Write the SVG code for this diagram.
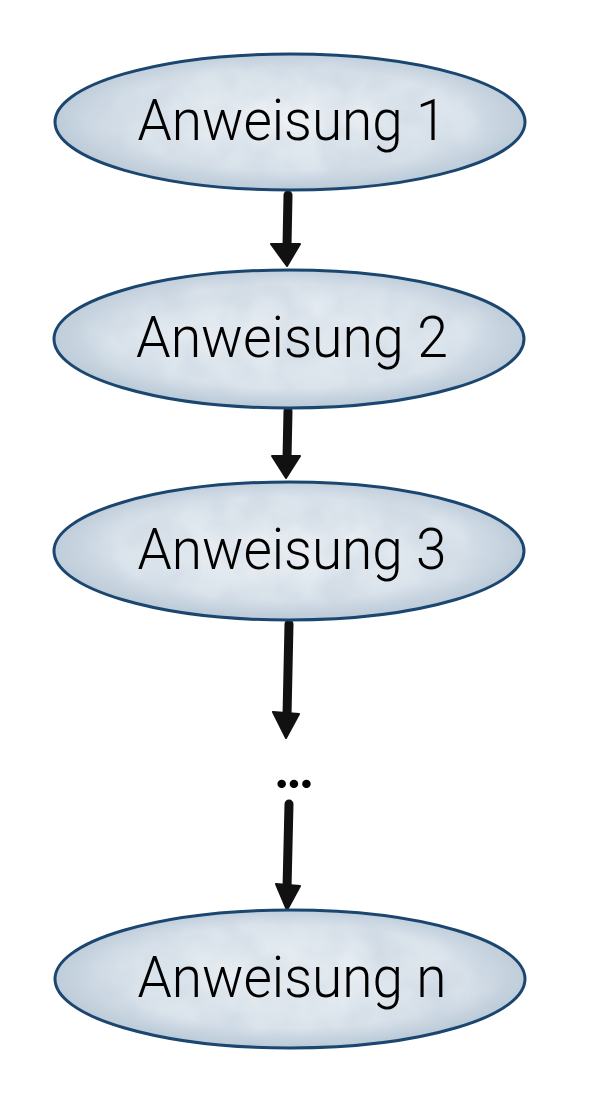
<svg xmlns="http://www.w3.org/2000/svg" width="599" height="1120" viewBox="0 0 599 1120">
  <defs>
    <radialGradient id="wash" cx="50%" cy="48%" r="58%">
      <stop offset="0" stop-color="#eef2f6"/>
      <stop offset="0.65" stop-color="#dae3eb"/>
      <stop offset="1" stop-color="#a9bccd"/>
    </radialGradient>
    <filter id="mottle" x="-5%" y="-5%" width="110%" height="110%">
      <feTurbulence type="fractalNoise" baseFrequency="0.022" numOctaves="3" seed="7" result="n"/>
      <feColorMatrix in="n" type="matrix" values="0 0 0 0 0.56  0 0 0 0 0.64  0 0 0 0 0.73  0 0 0 1.1 -0.35" result="c"/>
      <feComposite in="c" in2="SourceGraphic" operator="in" result="m"/>
      <feMerge><feMergeNode in="SourceGraphic"/><feMergeNode in="m"/></feMerge>
    </filter>
  </defs>
  <style>
    .wash { fill: url(#wash); stroke: none; filter: url(#mottle); }
    .rim { fill: none; stroke: #1b4670; stroke-width: 3; }
    .label { font-family: Roboto, "Liberation Sans", Arial, sans-serif; font-weight: 300; font-size: 58px; fill: #000; text-anchor: middle; }
    .shaft { stroke: #111; stroke-width: 9; stroke-linecap: round; fill: none; }
    .head { fill: #111; stroke: #111; stroke-width: 2; stroke-linejoin: round; }
    .dots { font-family: Lato, "Liberation Sans", Arial, sans-serif; font-size: 52px; font-weight: 900; letter-spacing: 0px; fill: #000; text-anchor: middle; }
  </style>
  <rect width="599" height="1120" fill="#fff"/>
  <g id="connectors">
    <line class="shaft" x1="288" y1="195" x2="287" y2="246"/>
    <path class="head" d="M271,244 L300,244 L287,266 Z"/>
    <line class="shaft" x1="288" y1="411" x2="287" y2="458"/>
    <path class="head" d="M272,456 L300,456 L286,478 Z"/>
    <line class="shaft" x1="289" y1="624" x2="287" y2="716"/>
    <path class="head" d="M273,712 L299,714 L286,738 Z"/>
    <line class="shaft" x1="289" y1="804" x2="287" y2="888"/>
    <path class="head" d="M276,884 L300,886 L287,910 Z"/>
    <text class="dots" x="294" y="788">...</text>
  </g>
  <g id="n1">
    <ellipse class="wash" cx="290" cy="122" rx="235" ry="68"/>
    <ellipse class="rim" cx="290" cy="122" rx="235" ry="68"/>
    <text class="label" x="292" y="140" textLength="309" lengthAdjust="spacingAndGlyphs">Anweisung 1</text>
  </g>
  <g id="n2">
    <ellipse class="wash" cx="289" cy="339" rx="235" ry="69"/>
    <ellipse class="rim" cx="289" cy="339" rx="235" ry="69"/>
    <text class="label" x="292" y="357" textLength="312" lengthAdjust="spacingAndGlyphs">Anweisung 2</text>
  </g>
  <g id="n3">
    <ellipse class="wash" cx="289" cy="551" rx="235" ry="69"/>
    <ellipse class="rim" cx="289" cy="551" rx="235" ry="69"/>
    <text class="label" x="292" y="569" textLength="309" lengthAdjust="spacingAndGlyphs">Anweisung 3</text>
  </g>
  <g id="nn">
    <ellipse class="wash" cx="290" cy="979" rx="235" ry="69"/>
    <ellipse class="rim" cx="290" cy="979" rx="235" ry="69"/>
    <text class="label" x="292" y="997" textLength="309" lengthAdjust="spacingAndGlyphs">Anweisung n</text>
  </g>
</svg>
